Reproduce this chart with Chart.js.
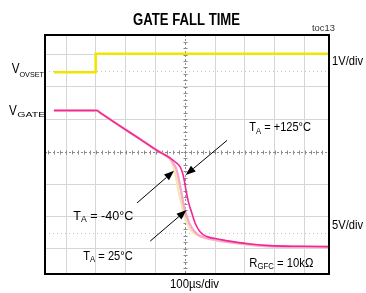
<!DOCTYPE html>
<html>
<head>
<meta charset="utf-8">
<script src="https://cdn.jsdelivr.net/npm/chart.js@4"></script>
<style>
  html, body { margin: 0; padding: 0; background: #fff; }
  canvas { display: block; }
</style>
</head>
<body>
<canvas id="scope" width="366" height="293"></canvas>
<script>
// time in µs (100µs/div), levels in screen divisions (centre line = 0)
const gridTimes = [-400, -300, -200, -100, 0, 100, 200, 300, 400];
const gridLevels = [-3, -2, -1, 0, 1, 2, 3];

const vovTime = [-441, -302, -301, 482];
const vovDiv = [2.45, 2.45, 3.02, 3.02];

const gate125Time = [-441, -297, -285, -219, -152, -92, -68, -51, -35, -18, -9, -4, 2, 10, 22, 33, 49, 72, 100, 128, 173, 217, 284, 385, 482];
const gate125Div = [1.27, 1.27, 1.196, 0.79, 0.39, 0.02, -0.10, -0.20, -0.31, -0.46, -0.67, -0.87, -1.18, -1.54, -1.90, -2.21, -2.47, -2.62, -2.68, -2.73, -2.80, -2.85, -2.90, -2.92, -2.93];

const gate25Time = [-441, -297, -285, -219, -152, -92, -68, -51, -40, -29, -24, -15, -7, 5, 22, 44, 70, 100, 173, 284, 482];
const gate25Div = [1.27, 1.27, 1.196, 0.79, 0.39, 0.02, -0.10, -0.21, -0.36, -0.57, -0.77, -1.18, -1.59, -2.01, -2.36, -2.57, -2.66, -2.72, -2.82, -2.92, -2.94];

const gateM40Time = [-441, -297, -285, -219, -152, -92, -68, -51, -42, -32, -24, -14, -3, 13, 38, 70, 173, 284, 482];
const gateM40Div = [1.27, 1.27, 1.196, 0.79, 0.39, 0.02, -0.12, -0.24, -0.41, -0.77, -1.18, -1.59, -2.01, -2.36, -2.57, -2.68, -2.83, -2.92, -2.94];

// arrows: [fromTime, fromDiv, toTime, toDiv]
const arrowM40 = [-162, -1.58, -38, -0.59];
const arrow125 = [140, 0.35, 1, -0.72];
const arrow25 = [-118, -2.76, 4, -1.80];

function pts(xs, ys) {
  return xs.map((x, i) => ({ x: x, y: ys[i] }));
}

const FONT = '"Liberation Sans", Arial, sans-serif';

// draws text parts squeezed to a target width (or per-part widths via p.w)
function richText(ctx, parts, x, y, width, align) {
  let natural = 0;
  parts.forEach(p => {
    ctx.font = (p.bold ? 'bold ' : '') + p.size + 'px ' + FONT;
    p.nat = ctx.measureText(p.t).width;
    natural += p.nat;
  });
  const sx = width / natural;
  let cx = align === 'right' ? x - width : align === 'center' ? x - width / 2 : x;
  parts.forEach(p => {
    ctx.font = (p.bold ? 'bold ' : '') + p.size + 'px ' + FONT;
    const s = p.w ? p.w / p.nat : sx;
    ctx.save();
    ctx.translate(p.x !== undefined ? p.x : cx, y + (p.dy || 0));
    ctx.scale(s, 1);
    ctx.fillText(p.t, 0, 0);
    ctx.restore();
    cx += p.nat * s;
  });
}

function tLabel(rest) {
  return [{ t: 'T', size: 13 }, { t: 'A', size: 9, dy: 2.6 }, { t: rest, size: 13 }];
}

const graticule = {
  id: 'graticule',
  beforeDatasetsDraw(chart) {
    const { ctx, chartArea: a, scales: { x, y } } = chart;
    ctx.save();
    // dotted lines at +-2.5 div
    ctx.strokeStyle = '#c4c4c4';
    ctx.lineWidth = 1;
    ctx.setLineDash([1, 3]);
    [2.5, -2.5].forEach(v => {
      const py = Math.round(y.getPixelForValue(v)) + 0.5;
      ctx.beginPath(); ctx.moveTo(a.left, py); ctx.lineTo(a.right, py); ctx.stroke();
    });
    // centre lines with sub-division ticks
    ctx.strokeStyle = '#8a8a8a';
    ctx.setLineDash([2, 2]);
    const cx = Math.round(x.getPixelForValue(0)) + 0.5;
    const cy = Math.round(y.getPixelForValue(0)) + 0.5;
    ctx.beginPath(); ctx.moveTo(cx, a.top); ctx.lineTo(cx, a.bottom); ctx.stroke();
    ctx.beginPath(); ctx.moveTo(a.left, cy); ctx.lineTo(a.right, cy); ctx.stroke();
    ctx.setLineDash([]);
    ctx.beginPath();
    for (let v = -4; v <= 4; v += 0.2) {
      const py = Math.round(y.getPixelForValue(v)) + 0.5;
      if (py < a.top || py > a.bottom) continue;
      ctx.moveTo(cx - 2, py); ctx.lineTo(cx + 2, py);
    }
    for (let t = -500; t <= 500; t += 20) {
      const px = Math.round(x.getPixelForValue(t)) + 0.5;
      if (px < a.left || px > a.right) continue;
      ctx.moveTo(px, cy - 2); ctx.lineTo(px, cy + 2);
    }
    ctx.stroke();
    ctx.restore();
  },
  afterDraw(chart) {
    const { ctx, chartArea: a, scales: { x, y } } = chart;
    ctx.save();
    // frame
    ctx.strokeStyle = '#000';
    ctx.lineWidth = 2;
    ctx.strokeRect(a.left, a.top, a.right - a.left, a.bottom - a.top);

    // arrows
    [arrowM40, arrow125, arrow25].forEach(ar => {
      const x1 = x.getPixelForValue(ar[0]), y1 = y.getPixelForValue(ar[1]);
      const x2 = x.getPixelForValue(ar[2]), y2 = y.getPixelForValue(ar[3]);
      const ang = Math.atan2(y2 - y1, x2 - x1);
      const len = 10, hw = 3.8;
      const bx = x2 - len * Math.cos(ang), by = y2 - len * Math.sin(ang);
      ctx.strokeStyle = '#000';
      ctx.lineWidth = 1;
      ctx.beginPath(); ctx.moveTo(x1, y1); ctx.lineTo(bx, by); ctx.stroke();
      ctx.fillStyle = '#000';
      ctx.beginPath();
      ctx.moveTo(x2, y2);
      ctx.lineTo(bx + hw * Math.sin(ang), by - hw * Math.cos(ang));
      ctx.lineTo(bx - hw * Math.sin(ang), by + hw * Math.cos(ang));
      ctx.closePath();
      ctx.fill();
    });

    // texts
    ctx.fillStyle = '#000';
    ctx.textBaseline = 'alphabetic';
    richText(ctx, [{ t: 'GATE FALL TIME', size: 16, bold: true }], 186.5, 24.5, 107, 'center');
    ctx.fillStyle = '#333';
    richText(ctx, [{ t: 'toc13', size: 9 }], 312, 31, 23, 'left');
    ctx.fillStyle = '#000';
    richText(ctx, [{ t: '1V/div', size: 13 }], 332, 64.5, 31, 'left');
    richText(ctx, [{ t: '5V/div', size: 13 }], 332, 229, 31, 'left');
    richText(ctx, [{ t: 'V', size: 14, x: 11.7, w: 7.8 }, { t: 'OVSET', size: 8, dy: 3.3, x: 19.5, w: 24.5 }], 11.7, 73.2, 32, 'left');
    richText(ctx, [{ t: 'V', size: 14, x: 9, w: 7.8 }, { t: 'GATE', size: 8, dy: 2.4, x: 17.2, w: 28 }], 9, 114.8, 36, 'left');
    richText(ctx, tLabel(' = +125°C'), 249.3, 131, 61.7, 'left');
    richText(ctx, tLabel(' = -40°C'), 73.3, 219.5, 60, 'left');
    richText(ctx, tLabel(' = 25°C'), 83.3, 259.5, 49.4, 'left');
    richText(ctx, [{ t: 'R', size: 13 }, { t: 'GFC', size: 9, dy: 1.8 }, { t: ' = 10kΩ', size: 13 }], 249.3, 266.8, 64, 'left');
    richText(ctx, [{ t: '100µs/div', size: 13 }], 194.5, 287.5, 49, 'center');
    ctx.restore();
  }
};

const gridColor = ctx => (ctx.tick && ctx.tick.value === 0) ? 'rgba(0,0,0,0)' : '#d6d6d6';

new Chart(document.getElementById('scope'), {
  type: 'line',
  data: {
    datasets: [
      {
        label: 'VOVSET',
        data: pts(vovTime, vovDiv),
        borderColor: '#f0e400',
        borderWidth: 2.5,
        tension: 0,
        order: 0
      },
      {
        label: 'TA = -40°C',
        data: pts(gateM40Time, gateM40Div),
        borderColor: '#f6e7a6',
        borderWidth: 2,
        cubicInterpolationMode: 'monotone',
        order: 3
      },
      {
        label: 'TA = 25°C',
        data: pts(gate25Time, gate25Div),
        borderColor: '#f7a8d0',
        borderWidth: 2.4,
        cubicInterpolationMode: 'monotone',
        order: 2
      },
      {
        label: 'TA = +125°C',
        data: pts(gate125Time, gate125Div),
        borderColor: '#ef2991',
        borderWidth: 1.6,
        cubicInterpolationMode: 'monotone',
        order: 1
      }
    ]
  },
  options: {
    responsive: false,
    animation: false,
    events: [],
    layout: { padding: { left: 45, top: 35, right: 37, bottom: 19 } },
    elements: { point: { radius: 0 } },
    plugins: { legend: { display: false }, tooltip: { enabled: false }, title: { display: false } },
    scales: {
      x: {
        type: 'linear',
        min: -471,
        max: 482,
        afterBuildTicks: s => { s.ticks = gridTimes.map(v => ({ value: v })); },
        ticks: { display: false },
        grid: { color: gridColor, lineWidth: 1, drawTicks: false },
        border: { display: false }
      },
      y: {
        type: 'linear',
        min: -3.775,
        max: 3.602,
        afterBuildTicks: s => { s.ticks = gridLevels.map(v => ({ value: v })); },
        ticks: { display: false },
        grid: { color: gridColor, lineWidth: 1, drawTicks: false },
        border: { display: false }
      }
    }
  },
  plugins: [graticule]
});
</script>
</body>
</html>
